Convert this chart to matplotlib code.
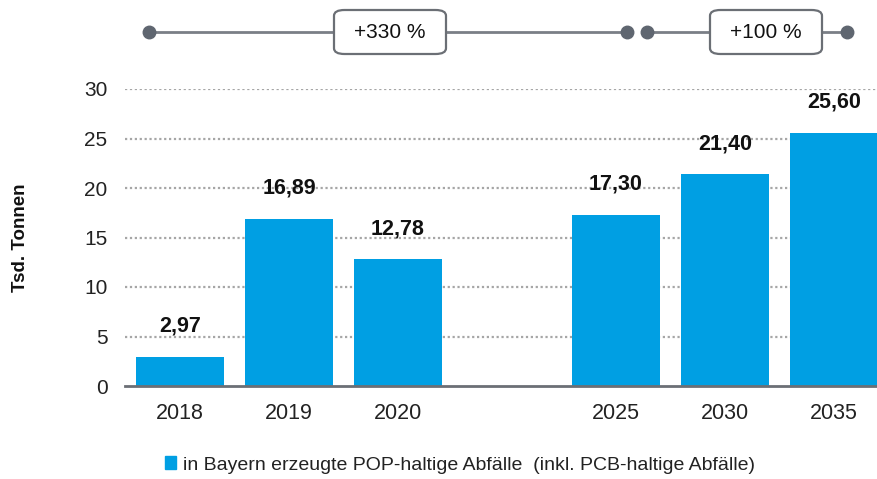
import matplotlib
matplotlib.use("Agg")
import matplotlib.pyplot as plt
from matplotlib.patches import FancyBboxPatch
from matplotlib.transforms import blended_transform_factory

plt.rcParams['font.family'] = ['Liberation Sans', 'DejaVu Sans']

# Data
years = ["2018", "2019", "2020", "", "2025", "2030", "2035"]
values = [2.97, 16.89, 12.78, None, 17.30, 21.40, 25.60]
value_labels = ["2,97", "16,89", "12,78", "", "17,30", "21,40", "25,60"]
y_ticks = [0, 5, 10, 15, 20, 25, 30]
legend_label = "in Bayern erzeugte POP-haltige Abfälle  (inkl. PCB-haltige Abfälle)"
y_label = "Tsd. Tonnen"
growth_labels = ["+330 %", "+100 %"]

bar_color = "#009FE3"
grid_color = "#a6a6a6"
axis_color = "#6b6f75"
dot_color = "#5f6670"

W, H = 878, 479
fig = plt.figure(figsize=(W / 100, H / 100), dpi=100)
# axes box in pixels: left 125.5, bottom y=386, top y=89
ax = fig.add_axes([125.5 / W, 1 - 386 / H, (W - 125.5) / W, (386 - 89) / H])

xs = [i for i, v in enumerate(values) if v is not None]
vals = [v for v in values if v is not None]
ax.bar(xs, vals, width=0.8, color=bar_color, zorder=3)

for i, (v, lab) in enumerate(zip(values, value_labels)):
    if v is None:
        continue
    ax.annotate(lab, (i, v), xytext=(0, 14.5), textcoords="offset points",
                ha="center", va="bottom", fontsize=15.5, fontweight="bold",
                color="#111111", zorder=5)

ax.set_xlim(-0.5, (W - 125.5) / 109.0 - 0.5)
ax.set_ylim(0, 30)
ax.set_yticks(y_ticks)
ax.set_yticklabels([str(t) for t in y_ticks], fontsize=15, color="#222222")
ax.set_xticks(range(len(years)))
ax.set_xticklabels(years, fontsize=15.5, color="#222222")
ax.tick_params(axis="both", length=0)
ax.tick_params(axis="y", pad=13)
ax.tick_params(axis="x", pad=12)

for t in y_ticks[1:]:
    ax.axhline(t, color=grid_color, lw=1.6, ls=(0, (1, 1.2)), zorder=1)

for s in ["top", "right", "left"]:
    ax.spines[s].set_visible(False)
ax.spines["bottom"].set_color(axis_color)
ax.spines["bottom"].set_linewidth(2)
ax.spines["bottom"].set_zorder(4)

fig.text(21 / W, 1 - 238 / H, y_label, rotation=90, ha="center", va="center",
         fontsize=13.5, fontweight="bold", color="#111111")

# Growth brackets along the top
tr = blended_transform_factory(ax.transData, fig.transFigure)
def px2x(px):
    return (px - 125.5) / 109.0 - 0.5

y_line = 1 - 32 / H
brackets = [(149, 627, 390, growth_labels[0]), (647, 847, 766, growth_labels[1])]
for x0, x1, xc, lab in brackets:
    ax.plot([px2x(x0), px2x(x1)], [y_line, y_line], transform=tr, color="#7a7f86",
            lw=2, clip_on=False, zorder=2)
    ax.plot([px2x(x0), px2x(x1)], [y_line, y_line], transform=tr, ls="none",
            marker="o", ms=9, color=dot_color, clip_on=False, zorder=3)
    bw, bh = 112 / W, 44 / H
    cx = xc / W
    box = FancyBboxPatch((cx - bw / 2, y_line - bh / 2), bw, bh,
                         boxstyle="round,pad=0,rounding_size=0.012",
                         transform=fig.transFigure, facecolor="white",
                         edgecolor="#6b6f75", lw=1.6, zorder=4)
    fig.patches.append(box)
    fig.text(cx, y_line, lab, ha="center", va="center", fontsize=15,
             color="#111111", zorder=5)

# Legend
leg = fig.legend(handles=[plt.Rectangle((0, 0), 1, 1, color=bar_color)],
                 labels=[legend_label], loc="center", bbox_to_anchor=(460 / W, 1 - 465 / H),
                 frameon=False, fontsize=14, handlelength=0.6, handleheight=0.6,
                 handletextpad=0.35)
for t in leg.get_texts():
    t.set_color("#222222")

fig.savefig("out.png", dpi=100)
